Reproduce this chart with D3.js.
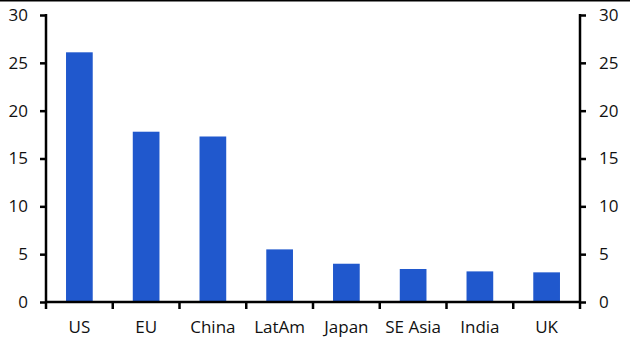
<!DOCTYPE html>
<html>
<head>
<meta charset="utf-8">
<script src="https://cdn.jsdelivr.net/npm/d3@7/dist/d3.min.js"></script>
<style>
  body { margin: 0; background: #fff; }
  svg text { font-family: "Open Sans", "Noto Sans", sans-serif; fill: #111; }
</style>
</head>
<body>
<div id="chart"></div>
<script>
// data
var categories = ["US", "EU", "China", "LatAm", "Japan", "SE Asia", "India", "UK"];
var values = [26.1, 17.8, 17.3, 5.5, 4.0, 3.45, 3.2, 3.1];
var yTicks = [0, 5, 10, 15, 20, 25, 30];

var width = 630,
	height = 355,
	plotLeft = 46,
	plotRight = 580,
	plotTop = 15,
	plotBottom = 302;

var svg = d3.select("#chart").append("svg")
	.attr("width", width)
	.attr("height", height);

// top border
svg.append("line")
	.attr("x1", 0).attr("x2", width)
	.attr("y1", 0.75).attr("y2", 0.75)
	.attr("stroke", "#000")
	.attr("stroke-width", 1.5);

var xScale = d3.scaleBand()
	.domain(categories)
	.range([plotLeft, plotRight])
	.paddingInner(0.6)
	.paddingOuter(0.3);

var xTicksScale = d3.scaleBand()
	.domain(categories)
	.range([plotLeft, plotRight]);

var yScale = d3.scaleLinear()
	.domain([0, 30])
	.range([plotBottom, plotTop]);

// bars
svg.selectAll("rect.bar")
	.data(values)
	.enter()
	.append("rect")
	.attr("class", "bar")
	.attr("x", function(d, i) { return xScale(categories[i]); })
	.attr("y", function(d) { return yScale(d); })
	.attr("width", xScale.bandwidth())
	.attr("height", function(d) { return yScale(0) - yScale(d); })
	.attr("fill", "#2058cd");

// left axis
var yAxisL = d3.axisLeft(yScale)
	.tickValues(yTicks)
	.tickSize(6)
	.tickPadding(12);

var gL = svg.append("g")
	.attr("transform", `translate(${plotLeft},0)`)
	.call(yAxisL);

// right axis
var yAxisR = d3.axisRight(yScale)
	.tickValues(yTicks)
	.tickSize(6)
	.tickPadding(13);

var gR = svg.append("g")
	.attr("transform", `translate(${plotRight},0)`)
	.call(yAxisR);

[gL, gR].forEach(function(g) {
	g.select(".domain").attr("stroke", "#000").attr("stroke-width", 2.5)
		.attr("d", `M0,${plotTop - 1}V${plotBottom}`);
	g.selectAll(".tick line").attr("stroke", "#000").attr("stroke-width", 2.5);
	g.selectAll(".tick text")
		.attr("font-size", 17)
		.attr("font-family", "'Open Sans', 'Noto Sans', sans-serif")
		.attr("fill", "#111");
});

// x axis: ticks at band boundaries
var boundaries = categories.map(function(c) { return xTicksScale(c); }).concat([plotRight]);

svg.append("line")
	.attr("x1", plotLeft - 1).attr("x2", plotRight + 1)
	.attr("y1", plotBottom).attr("y2", plotBottom)
	.attr("stroke", "#000")
	.attr("stroke-width", 2.5);

svg.selectAll("line.xtick")
	.data(boundaries)
	.enter()
	.append("line")
	.attr("class", "xtick")
	.attr("x1", function(d) { return d; })
	.attr("x2", function(d) { return d; })
	.attr("y1", plotBottom)
	.attr("y2", plotBottom + 7)
	.attr("stroke", "#000")
	.attr("stroke-width", 2.5);

svg.selectAll("text.xlabel")
	.data(categories)
	.enter()
	.append("text")
	.attr("class", "xlabel")
	.attr("x", function(d) { return xTicksScale(d) + xTicksScale.bandwidth() / 2; })
	.attr("y", 333)
	.attr("text-anchor", "middle")
	.attr("font-size", 17)
	.text(function(d) { return d; });
</script>
</body>
</html>
